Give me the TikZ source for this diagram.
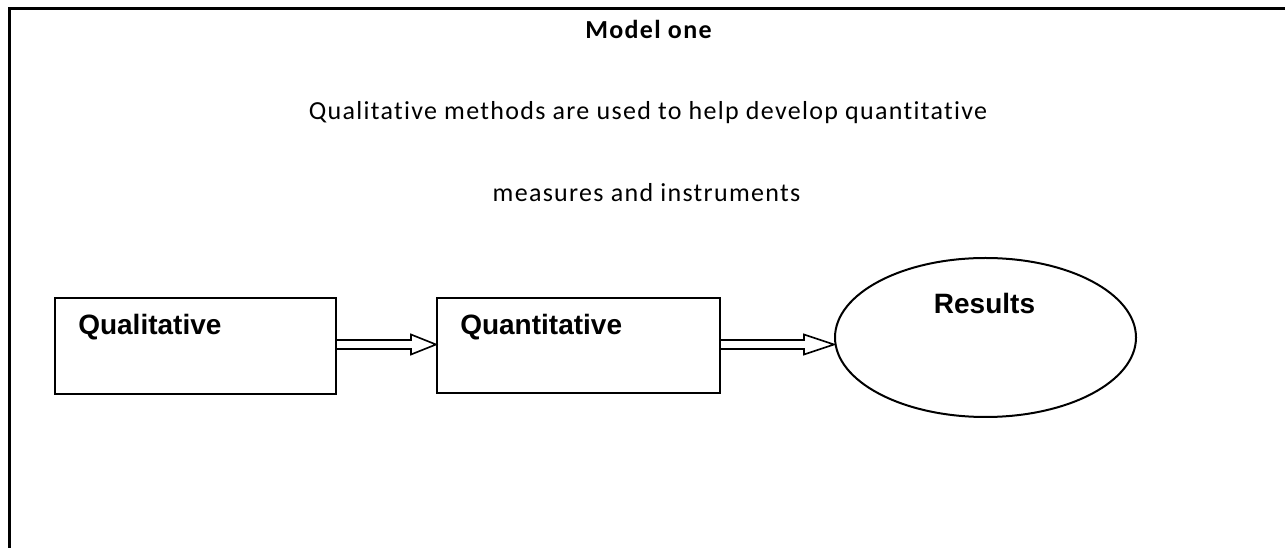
\documentclass[tikz,border=0pt]{standalone}
\usepackage{fontspec}
\setmainfont{Carlito}[Ligatures={NoCommon,NoContextual}]
\newfontfamily\arialfont{Liberation Sans}
\usetikzlibrary{shapes.geometric,calc}
\tikzset{
  frameline/.style={line width=2.25pt},
  stagebox/.style={draw, line width=1.5pt, rectangle, inner sep=0pt},
  resultell/.style={draw, line width=1.5pt, ellipse, inner sep=0pt},
  boxlabel/.style={inner sep=0pt, font=\arialfont\bfseries\fontsize{21}{24}\selectfont},
  titletext/.style={inner sep=0pt, font=\bfseries\fontsize{19.5}{22}\selectfont\addfontfeature{LetterSpace=5}},
  bodytext/.style={inner sep=0pt, font=\fontsize{19.5}{23}\selectfont\addfontfeature{LetterSpace=5}},
  hollowarrow/.style={draw, fill=white, line width=1.2pt, line join=miter}
}
\begin{document}
\begin{tikzpicture}[x=0.75pt,y=-0.75pt]
\useasboundingbox (0,0) rectangle (1285,548);
\fill[white] (0,0) rectangle (1285,548);
\begin{scope}
\clip (0,0) rectangle (1285,548);
\draw[frameline] (9.5,8.5) rectangle (1300,570);
\end{scope}

\node[titletext, anchor=base] (title) at (648.5,39) {Model one};
\node[bodytext, anchor=base] (line1) at (648,120) {Qualitative methods are used to help develop quantitative};
\node[bodytext, anchor=base] (line2) at (646.5,201.5) {measures and instruments};

\node[stagebox, minimum width=281*0.75pt, minimum height=96*0.75pt] (qual) at (195.5,346) {};
\node[boxlabel, anchor=base west] (qualtext) at (78,335) {Qualitative};

\node[stagebox, minimum width=283*0.75pt, minimum height=95*0.75pt] (quant) at (578.5,345.5) {};
\node[boxlabel, anchor=base west] (quanttext) at (460,335) {Quantitative};

\node[resultell, minimum width=301*0.75pt, minimum height=159*0.75pt] (res) at (985.5,337.5) {};
\node[boxlabel, anchor=base] (restext) at (984.5,314) {Results};

% arrow 1
\coordinate (a1s) at (qual.east |- 0,344.5);
\coordinate (a1e) at (quant.west |- 0,344.5);
\draw[hollowarrow] (a1s) ++(0,-4.5) -- ($(a1e)+(-25,-4.5)$) -- ($(a1e)+(-25,-10)$) -- (a1e)
  -- ($(a1e)+(-25,10)$) -- ($(a1e)+(-25,4.5)$) -- ($(a1s)+(0,4.5)$);
% arrow 2
\coordinate (a2s) at (quant.east |- 0,344.5);
\coordinate (a2e) at (res.west |- 0,344.5);
\draw[hollowarrow] (a2s) ++(0,-4.5) -- ($(a2e)+(-30,-4.5)$) -- ($(a2e)+(-30,-10)$) -- (a2e)
  -- ($(a2e)+(-30,10)$) -- ($(a2e)+(-30,4.5)$) -- ($(a2s)+(0,4.5)$);
\end{tikzpicture}
\end{document}
